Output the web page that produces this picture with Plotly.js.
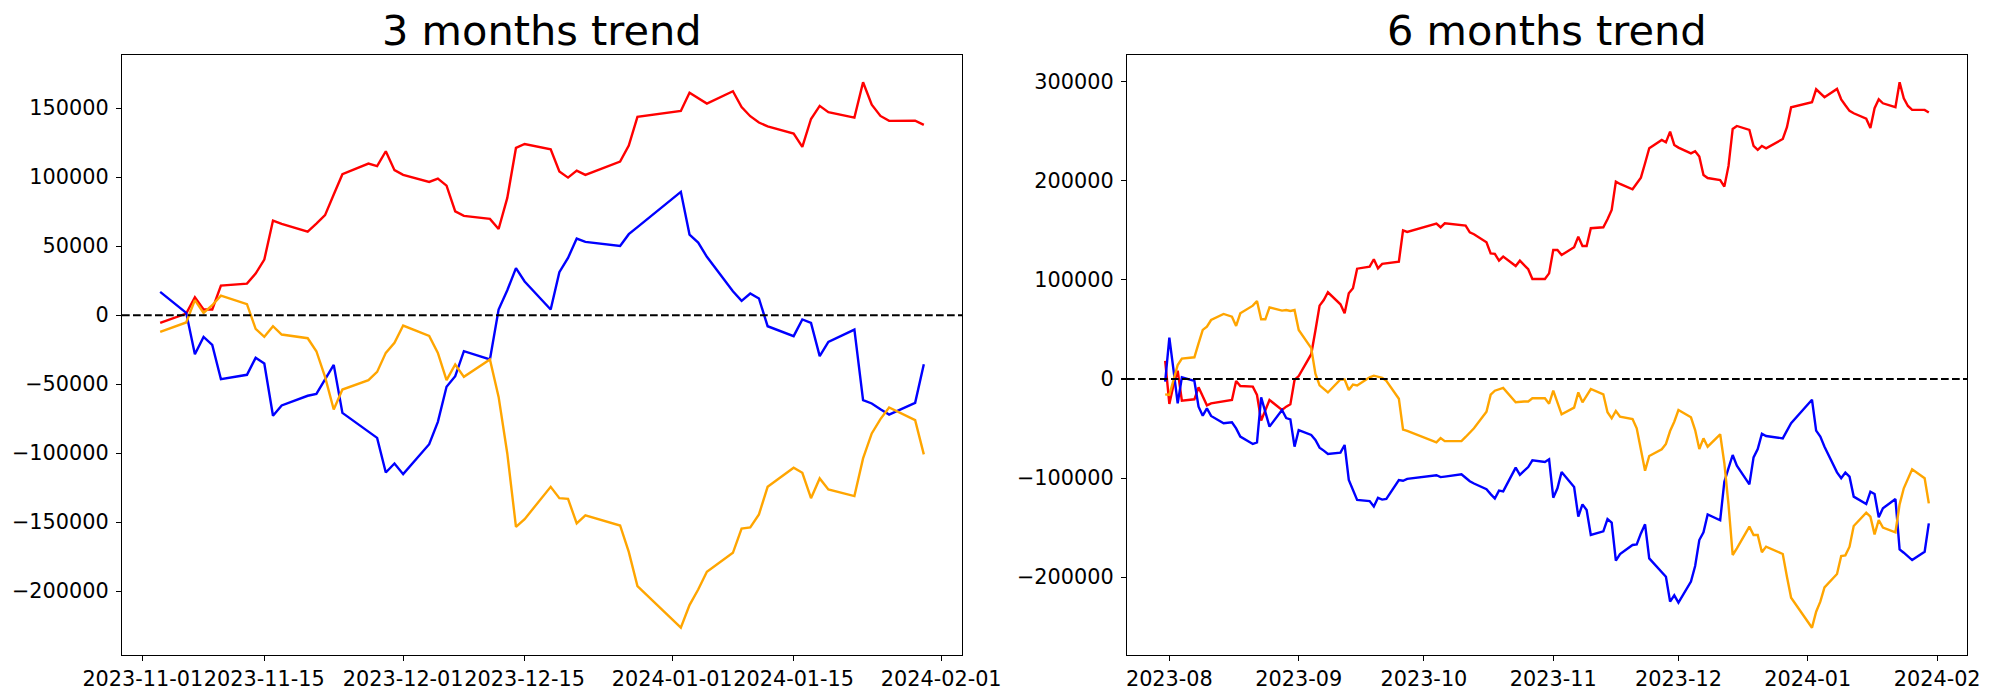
<!DOCTYPE html>
<html>
<head>
<meta charset="utf-8">
<script src="https://cdn.plot.ly/plotly-3.0.1.min.js"></script>
<style>html,body{margin:0;padding:0;background:#fff;}#chart{width:2000px;height:700px;}</style>
</head>
<body>
<div id="chart"></div>
<script>
// ---------- 3 months trend ----------
const m3Dates = [
  '2023-11-03',
  '2023-11-06','2023-11-07','2023-11-08','2023-11-09','2023-11-10',
  '2023-11-13','2023-11-14','2023-11-15','2023-11-16','2023-11-17',
  '2023-11-20','2023-11-21','2023-11-22','2023-11-23','2023-11-24',
  '2023-11-27','2023-11-28','2023-11-29','2023-11-30','2023-12-01',
  '2023-12-04','2023-12-05','2023-12-06','2023-12-07','2023-12-08',
  '2023-12-11','2023-12-12','2023-12-13','2023-12-14','2023-12-15',
  '2023-12-18','2023-12-19','2023-12-20','2023-12-21','2023-12-22',
  '2023-12-26','2023-12-27','2023-12-28',
  '2024-01-02','2024-01-03','2024-01-04','2024-01-05',
  '2024-01-08','2024-01-09','2024-01-10','2024-01-11','2024-01-12',
  '2024-01-15','2024-01-16','2024-01-17','2024-01-18','2024-01-19',
  '2024-01-22','2024-01-23','2024-01-24','2024-01-25','2024-01-26',
  '2024-01-29','2024-01-30'
];
const m3Red = [
  -5600,
  1200, 13000, 4100, 4100, 21500,
  22900, 30200, 40300, 68600, 66200,
  60600, 66400, 72500, 87400, 102200,
  109900, 108000, 118800, 105100, 101700,
  96600, 99000, 93900, 75300, 72000,
  69800, 62500, 85000, 121200, 124100,
  120300, 104100, 99700, 104800, 101700,
  111300, 122900, 143700,
  148000, 161300, 157200, 153400,
  162300, 150900, 144200, 139600, 136900,
  131600, 122000, 142200, 151700, 147100,
  143200, 168800, 152600, 144400, 140800,
  141000, 137900
];
const m3Blue = [
  16900,
  1700, -28300, -15700, -21500, -46400,
  -43200, -30900, -35000, -72900, -65400,
  -58400, -57000, -46500, -36000, -70800,
  -84500, -88900, -114000, -107500, -115200,
  -93500, -77300, -51900, -44200, -26100,
  -32100, 4100, 18100, 34100, 24400,
  4100, 31200, 41500, 55500, 53100,
  50200, 58700, 63800,
  89400, 58400, 52600, 42300,
  17400, 10400, 15700, 12100, -8000,
  -15200, -3100, -5600, -29700, -19300,
  -10400, -61600, -64000, -68100, -72000,
  -63500, -35500
];
const m3Orange = [
  -12100,
  -5300, 10900, 1700, 7200, 14200,
  8000, -9900, -15700, -8000, -14000,
  -16700, -26100, -44700, -68300, -53900,
  -47100, -41100, -27300, -20000, -7500,
  -15000, -27300, -47100, -35700, -44700,
  -32100, -59200, -100200, -153400, -147800,
  -124400, -132600, -133100, -150900, -145100,
  -152400, -171500, -196300,
  -226500, -210100, -198800, -186000,
  -172200, -154600, -153800, -144400, -124400,
  -110600, -114200, -132600, -118300, -126300,
  -131100, -103800, -85700, -75300, -66900,
  -76100, -100900
];
const m3XTicks = ['2023-11-01','2023-11-15','2023-12-01','2023-12-15','2024-01-01','2024-01-15','2024-02-01'];
const m3YTicks = [-200000,-150000,-100000,-50000,0,50000,100000,150000];

// ---------- 6 months trend ----------
const m6Dates = [
  '2023-07-31',
  '2023-08-01','2023-08-02','2023-08-03','2023-08-04',
  '2023-08-07','2023-08-08','2023-08-09','2023-08-10','2023-08-11',
  '2023-08-14','2023-08-16','2023-08-17','2023-08-18',
  '2023-08-21','2023-08-22','2023-08-23','2023-08-24','2023-08-25',
  '2023-08-28','2023-08-29','2023-08-30','2023-08-31','2023-09-01',
  '2023-09-04','2023-09-05','2023-09-06','2023-09-07','2023-09-08',
  '2023-09-11','2023-09-12','2023-09-13','2023-09-14','2023-09-15',
  '2023-09-18','2023-09-19','2023-09-20','2023-09-21','2023-09-22',
  '2023-09-25','2023-09-26','2023-09-27',
  '2023-10-04','2023-10-05','2023-10-06',
  '2023-10-10','2023-10-11','2023-10-12','2023-10-13',
  '2023-10-16','2023-10-17','2023-10-18','2023-10-19','2023-10-20',
  '2023-10-23','2023-10-24','2023-10-25','2023-10-26','2023-10-27',
  '2023-10-30','2023-10-31','2023-11-01','2023-11-02','2023-11-03',
  '2023-11-06','2023-11-07','2023-11-08','2023-11-09','2023-11-10',
  '2023-11-13','2023-11-14','2023-11-15','2023-11-16','2023-11-17',
  '2023-11-20','2023-11-21','2023-11-22','2023-11-23','2023-11-24',
  '2023-11-27','2023-11-28','2023-11-29','2023-11-30','2023-12-01',
  '2023-12-04','2023-12-05','2023-12-06','2023-12-07','2023-12-08',
  '2023-12-11','2023-12-12','2023-12-13','2023-12-14','2023-12-15',
  '2023-12-18','2023-12-19','2023-12-20','2023-12-21','2023-12-22',
  '2023-12-26','2023-12-27','2023-12-28',
  '2024-01-02','2024-01-03','2024-01-04','2024-01-05',
  '2024-01-08','2024-01-09','2024-01-10','2024-01-11','2024-01-12',
  '2024-01-15','2024-01-16','2024-01-17','2024-01-18','2024-01-19',
  '2024-01-22','2024-01-23','2024-01-24','2024-01-25','2024-01-26',
  '2024-01-29','2024-01-30'
];
const m6Red = [
  18200,
  -25200, -6000, 8300, -21900,
  -20500, -8400, -17000, -26600, -24600,
  -22900, -21200, -2000, -7100,
  -7700, -16100, -42000, -31000, -21200,
  -31300, -27900, -25600, -1000, 3000,
  25000, 49000, 74000, 79700, 87500,
  75400, 66300, 86500, 91500, 111300,
  113400, 120800, 111700, 116100, 116700,
  118400, 150000, 148400,
  156800, 153100, 157100,
  155100, 154700, 148000, 146000,
  137900, 126800, 126200, 119400, 123500,
  114000, 119400, 114700, 110700, 100900,
  100900, 106600, 130200, 130200, 125100,
  132900, 143600, 134200, 134200, 152100,
  153100, 161100, 170600, 199100, 196800,
  191400, 197800, 203200, 217700, 232800,
  241200, 238800, 249600, 236200, 233500,
  227700, 229800, 224400, 205900, 202800,
  200800, 194100, 215000, 252300, 255300,
  251300, 235100, 231100, 235100, 232800,
  242200, 254000, 274200,
  279200, 292300, 288300, 284300,
  292700, 282200, 276200, 270500, 268100,
  262700, 253300, 273200, 282200, 278200,
  274200, 299400, 283200, 275500, 271500,
  271500, 268800
];
const m6Blue = [
  -2700,
  41700, 9000, -24600, 1700,
  -2000, -27900, -37000, -29600, -37300,
  -44700, -43700, -49800, -58200,
  -65600, -63900, -18500, -33000, -48100,
  -31300, -39400, -40700, -68300, -51500,
  -56500, -61600, -69300, -72300, -75700,
  -74300, -66600, -101900, -112000, -122100,
  -123200, -128700, -119900, -121700, -121000,
  -102000, -102700, -100800,
  -97100, -99000, -98500,
  -96200, -99700, -103200, -105500,
  -111200, -116200, -120600, -112700, -113400,
  -89500, -96700, -92700, -88900, -82000,
  -83800, -81000, -119800, -110300, -93900,
  -109000, -138900, -126500, -132200, -157400,
  -153700, -141300, -145000, -183300, -176600,
  -167500, -166900, -155800, -146700, -181000,
  -194400, -199500, -224700, -218300, -225700,
  -204500, -188700, -162500, -154700, -136600,
  -142600, -103600, -90000, -76700, -87500,
  -106300, -79100, -70600, -55200, -57500,
  -59900, -52100, -44700,
  -20900, -52100, -58200, -68300,
  -94200, -100200, -94500, -98600, -118700,
  -126200, -113700, -116100, -139600, -130500,
  -121100, -171900, -175300, -178600, -182700,
  -174300, -145700
];
const m6Orange = [
  -15500,
  -16100, -1000, 14100, 20500,
  21900, 36000, 49500, 52800, 59500,
  65600, 62900, 53500, 66300,
  74000, 78700, 60200, 60200, 72300,
  69000, 69600, 68600, 69600, 49400,
  31100, 5400, -6400, -10000, -13600,
  -400, -500, -11100, -5700, -6500,
  1700, 3300, 2500, 1200, -1900,
  -19900, -51100, -52400,
  -63900, -59600, -62700,
  -62700, -58500, -53700, -49700,
  -33000, -15800, -11800, -10400, -9000,
  -23400, -22700, -22700, -22700, -19500,
  -19500, -25000, -11800, -23500, -35700,
  -28900, -13500, -23500, -16800, -10100,
  -15500, -33600, -39700, -32300, -38000,
  -40400, -49800, -70000, -92500, -77700,
  -71000, -65600, -52500, -43100, -31300,
  -38700, -51500, -70600, -59900, -68300,
  -55800, -85000, -127000, -177600, -170900,
  -149000, -157400, -157400, -174900, -169200,
  -176600, -199500, -220700,
  -251000, -234800, -224700, -210300,
  -196800, -178600, -178000, -169200, -148400,
  -134900, -138900, -156800, -142300, -150000,
  -154700, -126500, -110300, -100200, -91200,
  -100200, -125500
];
const m6XTicks = ['2023-08-01','2023-09-01','2023-10-01','2023-11-01','2023-12-01','2024-01-01','2024-02-01'];
const m6XLabels = ['2023-08','2023-09','2023-10','2023-11','2023-12','2024-01','2024-02'];
const m6YTicks = [-200000,-100000,0,100000,200000,300000];

const titles = ['3 months trend', '6 months trend'];
const colors = {red: '#ff0000', blue: '#0000ff', orange: '#ffa500'};

// ---------- helpers (matplotlib-like 5% autoscale margins) ----------
function padRange(vals) {
  const lo = Math.min(...vals), hi = Math.max(...vals);
  const m = (hi - lo) * 0.05;
  return [lo - m, hi + m];
}
function padDateRange(dates) {
  const ms = dates.map(d => Date.parse(d + 'T00:00:00Z'));
  const [a, b] = padRange(ms);
  const f = v => new Date(v).toISOString().replace('T', ' ').replace('Z', '');
  return [f(a), f(b)];
}
const fmt = v => String(v).replace('-', '\u2212');

const lineW = 2.4;
function mk(x, y, color, xa, ya) {
  return {x: x, y: y, type: 'scatter', mode: 'lines', xaxis: xa, yaxis: ya,
          line: {color: color, width: lineW}, hoverinfo: 'x+y', showlegend: false};
}
const data = [
  mk(m3Dates, m3Red, colors.red, 'x', 'y'),
  mk(m3Dates, m3Blue, colors.blue, 'x', 'y'),
  mk(m3Dates, m3Orange, colors.orange, 'x', 'y'),
  mk(m6Dates, m6Red, colors.red, 'x2', 'y2'),
  mk(m6Dates, m6Blue, colors.blue, 'x2', 'y2'),
  mk(m6Dates, m6Orange, colors.orange, 'x2', 'y2')
];

const W = 2000, H = 700;
const plotTop = 55, plotBot = 655;
const yDom = [(H - plotBot) / H, (H - plotTop) / H];
const tickFont = {family: 'DejaVu Sans, sans-serif', size: 20.8, color: '#000'};
const axisCommon = {
  showline: true, mirror: true, linecolor: '#000', linewidth: 1.1,
  ticks: 'outside', ticklen: 5, tickwidth: 1.1, tickcolor: '#000',
  showgrid: false, zeroline: false, tickfont: tickFont, fixedrange: true,
  tickangle: 0
};

const layout = {
  width: W, height: H,
  margin: {l: 0, r: 0, t: 0, b: 0, pad: 0},
  paper_bgcolor: '#fff', plot_bgcolor: '#fff',
  font: {family: 'DejaVu Sans, sans-serif', color: '#000'},
  showlegend: false,
  xaxis: Object.assign({}, axisCommon, {
    domain: [122 / W, 962 / W], anchor: 'y', type: 'date',
    range: padDateRange(m3Dates),
    tickmode: 'array', tickvals: m3XTicks, ticktext: m3XTicks
  }),
  yaxis: Object.assign({}, axisCommon, {
    domain: yDom, anchor: 'x',
    range: padRange(m3Red.concat(m3Blue, m3Orange)),
    tickmode: 'array', tickvals: m3YTicks, ticktext: m3YTicks.map(fmt),
    ticklabelstandoff: 3
  }),
  xaxis2: Object.assign({}, axisCommon, {
    domain: [1127 / W, 1967 / W], anchor: 'y2', type: 'date',
    range: padDateRange(m6Dates),
    tickmode: 'array', tickvals: m6XTicks, ticktext: m6XLabels
  }),
  yaxis2: Object.assign({}, axisCommon, {
    domain: yDom, anchor: 'x2',
    range: padRange(m6Red.concat(m6Blue, m6Orange)),
    tickmode: 'array', tickvals: m6YTicks, ticktext: m6YTicks.map(fmt),
    ticklabelstandoff: 3
  }),
  shapes: [
    {type: 'line', xref: 'x domain', x0: 0, x1: 1, yref: 'y', y0: 0, y1: 0,
     line: {color: '#000', width: 2, dash: '7.7px,3.3px'}, layer: 'above'},
    {type: 'line', xref: 'x2 domain', x0: 0, x1: 1, yref: 'y2', y0: 0, y1: 0,
     line: {color: '#000', width: 2, dash: '7.7px,3.3px'}, layer: 'above'}
  ],
  annotations: [
    {text: titles[0], xref: 'x domain', x: 0.5, yref: 'paper', y: (H - 31) / H,
     xanchor: 'center', yanchor: 'middle', showarrow: false,
     font: {family: 'DejaVu Sans, sans-serif', size: 41.5, color: '#000'}},
    {text: titles[1], xref: 'x2 domain', x: 0.5, yref: 'paper', y: (H - 31) / H,
     xanchor: 'center', yanchor: 'middle', showarrow: false,
     font: {family: 'DejaVu Sans, sans-serif', size: 41.5, color: '#000'}}
  ]
};

Plotly.newPlot('chart', data, layout, {staticPlot: true, displayModeBar: false});
</script>
</body>
</html>
